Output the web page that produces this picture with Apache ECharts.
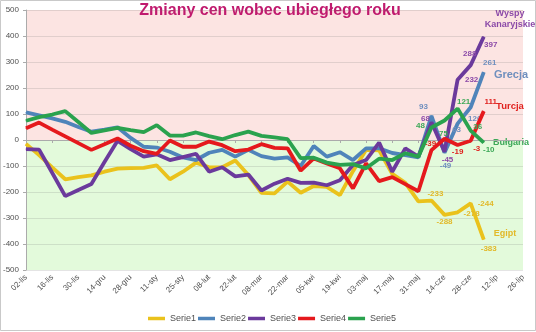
<!DOCTYPE html>
<html>
<head>
<meta charset="utf-8">
<script src="https://cdn.jsdelivr.net/npm/echarts@6/dist/echarts.min.js"></script>
<style>
html,body{margin:0;padding:0;background:#fff;}
#c{width:536px;height:332px;}
</style>
</head>
<body>
<div id="c"></div>
<script>
const categories = ['02-lis','09-lis','16-lis','23-lis','30-lis','07-gru','14-gru','21-gru','28-gru','04-sty','11-sty','18-sty','25-sty','01-lut','08-lut','15-lut','22-lut','01-mar','08-mar','15-mar','22-mar','29-mar','05-kwi','12-kwi','19-kwi','26-kwi','03-maj','10-maj','17-maj','24-maj','31-maj','07-cze','14-cze','21-cze','28-cze','05-lip','12-lip','19-lip','26-lip'];
const yTicks = [-500,-400,-300,-200,-100,0,100,200,300,400,500];
const seriesNames = ['Serie1','Serie2','Serie3','Serie4','Serie5'];
const countryNames = ['Egipt','Grecja','Wyspy\nKanaryjskie','Turcja','Bułgaria'];

const serie1 = [-15,-58,-105,-151,-143,-136,-122,-110,-108,-107,-98,-151,-122,-87,-105,-105,-79,-135,-203,-205,-160,-203,-177,-180,-212,-120,-38,-40,-130,-165,-236,-233,-288,-278,-244,-383];
const serie2 = [106,95,83,70,50,32,40,49,8,-26,-29,-45,-67,-77,-49,-38,-64,-38,-62,-72,-67,-100,-23,-64,-47,-77,-32,-32,-50,-58,-67,93,-49,63,126,261];
const serie3 = [-35,-37,-126,-216,-192,-169,-85,-3,-35,-64,-55,-77,-66,-53,-122,-105,-140,-133,-194,-168,-149,-165,-164,-174,-155,-96,-77,-10,-122,-32,-64,68,-45,232,288,397];
const serie4 = [45,67,40,14,-12,-38,-16,6,-22,-43,-53,-2,-26,-26,-6,-20,-43,-37,-16,-30,-32,-118,-71,-90,-109,-186,-90,-158,-143,-170,-197,-39,5,-19,-3,111];
const serie5 = [74,88,98,111,69,27,37,47,38,30,57,17,17,29,15,3,19,32,16,10,3,-70,-68,-87,-96,-93,-109,-72,-77,-51,-64,48,75,121,36,-10];
const allSeries = [serie1, serie2, serie3, serie4, serie5];

const colors = ['#EAC21C','#4F84BA','#6B3A9C','#E5191D','#2AA24E'];
const labelColors = ['#E2B928','#6F8FBE','#8B4AA8','#E0221F','#3DA858'];

// label offsets (px) of the value labels, per series: index -> [dx, dy]
const labelOffsets = [
  {31:[4,-7],32:[0,7],33:[14,2],34:[15,0],35:[5,9]},
  {31:[-8,-9],32:[1,13],33:[-1,6],34:[4,12],35:[6,-9]},
  {31:[-6,-4],32:[3,8],33:[14,0],34:[-1,-11],35:[7,8]},
  {31:[-1,-6],33:[0,7],34:[6,8],35:[7,-9]},
  {31:[-11,-2],32:[-1,13],33:[6,-7],34:[7,-4],35:[5,7]}
];

const font = 'Liberation Sans, Arial, sans-serif';

const series = allSeries.map((vals, s) => ({
  name: seriesNames[s],
  type: 'line',
  xAxisIndex: 0,
  data: vals.map((v, i) => {
    const off = labelOffsets[s][i];
    if (!off) return v;
    return {value: v, label: {show: true, position: 'inside', offset: off}};
  }),
  symbol: 'circle',
  symbolSize: 1,
  showSymbol: true,
  lineStyle: {width: 3.8, color: colors[s]},
  itemStyle: {color: colors[s]},
  label: {show: false, color: labelColors[s], fontSize: 8, fontWeight: 'bold', fontFamily: font},
  emphasis: {disabled: true},
  animation: false,
  z: 2 + s
}));

const chart = echarts.init(document.getElementById('c'), null, {renderer: 'canvas'});
chart.setOption({
  animation: false,
  color: colors,
  grid: {
    left: 25, right: 13, top: 10, bottom: 62,
    show: true, borderWidth: 0,
    backgroundColor: {type: 'linear', x: 0, y: 0, x2: 0, y2: 1, colorStops: [
      {offset: 0, color: '#FCE4E2'}, {offset: 0.5, color: '#FCE4E2'},
      {offset: 0.5, color: '#E3FADB'}, {offset: 1, color: '#E3FADB'}]}
  },
  xAxis: [{
    type: 'category', data: categories, boundaryGap: false, position: 'bottom',
    axisLine: {show: false, onZero: false},
    axisTick: {show: false},
    axisLabel: {interval: 1, rotate: 45, fontSize: 8, color: '#505050', margin: 6, fontFamily: font},
    splitLine: {show: false}
  }, {
    type: 'category', data: categories, boundaryGap: false, position: 'bottom',
    axisLine: {show: true, onZero: true, lineStyle: {color: '#ABABAB', width: 1}},
    axisTick: {show: true, interval: 1, length: 3, lineStyle: {color: '#ABABAB'}},
    axisLabel: {show: false},
    splitLine: {show: false}
  }],
  yAxis: {
    type: 'value', min: yTicks[0], max: yTicks[yTicks.length - 1], interval: 100,
    axisLine: {show: true, lineStyle: {color: '#ABABAB'}},
    axisTick: {show: true, length: 3, lineStyle: {color: '#ABABAB'}},
    axisLabel: {fontSize: 8, color: '#505050', margin: 7, fontFamily: font},
    splitLine: {show: true, lineStyle: {color: 'rgba(120,120,120,0.2)', width: 1}}
  },
  legend: {
    data: seriesNames, left: 143, top: 309, icon: 'rect',
    itemWidth: 17, itemHeight: 3.5, itemGap: 2,
    textStyle: {fontSize: 9, color: '#505050', fontFamily: font}
  },
  series: series,
  graphic: [
    {type: 'rect', shape: {x: 0.5, y: 0.5, width: 535, height: 330}, style: {fill: 'none', stroke: '#C9C9C9', lineWidth: 1}, silent: true, z: -10},
    {type: 'text', x: 270, y: 11, style: {text: 'Zmiany cen wobec ubiegłego roku', font: 'bold 16px ' + font, fill: '#C01A6E', textAlign: 'center', textVerticalAlign: 'middle'}},
    {type: 'text', x: 510, y: 19, style: {text: countryNames[2], font: 'bold 9px ' + font, fill: labelColors[2], textAlign: 'center', textVerticalAlign: 'middle', lineHeight: 11}},
    {type: 'text', x: 511, y: 75, style: {text: countryNames[1], font: 'bold 11px ' + font, fill: labelColors[1], textAlign: 'center', textVerticalAlign: 'middle'}},
    {type: 'text', x: 510, y: 106, style: {text: countryNames[3], font: 'bold 9.5px ' + font, fill: labelColors[3], textAlign: 'center', textVerticalAlign: 'middle'}},
    {type: 'text', x: 511, y: 143, style: {text: countryNames[4], font: 'bold 9px ' + font, fill: labelColors[4], textAlign: 'center', textVerticalAlign: 'middle'}},
    {type: 'text', x: 505, y: 234, style: {text: countryNames[0], font: 'bold 9px ' + font, fill: labelColors[0], textAlign: 'center', textVerticalAlign: 'middle'}}
  ]
});
</script>
</body>
</html>
